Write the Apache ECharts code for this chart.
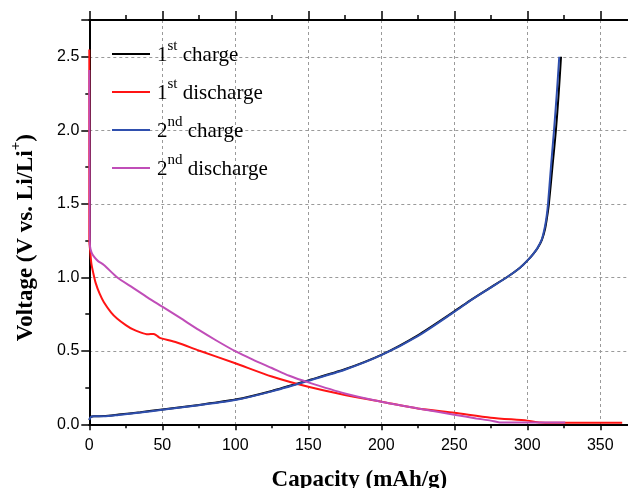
<!DOCTYPE html>
<html><head><meta charset="utf-8">
<script src="https://cdn.jsdelivr.net/npm/echarts@6/dist/echarts.min.js"></script>
<style>html,body{margin:0;padding:0;background:#fff}#c{width:628px;height:488px}</style>
</head><body><div id="c"></div>
<script>
// ---- data ----
const seriesNames = ['1st charge', '1st discharge', '2nd charge', '2nd discharge'];
const xAxisTitle = 'Capacity (mAh/g)';
const yAxisTitle = ['Voltage (V vs. Li/Li', '+', ')'];
const xMin = 0, xMax = 370, xStep = 50;
const yMin = 0, yMax = 2.75, yStep = 0.5;

const charge1 = [[0,0.03],[1,0.05],[3,0.055],[10,0.056],[20,0.066],[35,0.082],[50,0.101],[75,0.132],[100,0.168],[125,0.227],[150,0.299],[175,0.374],[200,0.472],[225,0.605],[250,0.768],[262,0.85],[275,0.932],[286,1.0],[295,1.065],[300,1.113],[304,1.158],[307,1.198],[310,1.255],[312.2,1.33],[313.7,1.42],[314.8,1.5],[317.2,1.75],[319.6,2.0],[321.5,2.25],[323.1,2.5]];
const discharge1 = [[0,2.55],[0,1.25],[0.6,1.18],[1.4,1.095],[2.7,1.03],[4.4,0.96],[7,0.89],[10,0.83],[15,0.76],[19,0.72],[25,0.675],[30,0.645],[35,0.625],[40,0.612],[44,0.615],[46,0.605],[48,0.59],[50,0.583],[60,0.556],[75,0.502],[100,0.415],[125,0.325],[150,0.255],[175,0.2],[200,0.154],[225,0.107],[250,0.078],[275,0.045],[300,0.025],[309,0.013],[330,0.011],[365,0.011]];
const charge2 = [[0,0.03],[1,0.05],[3,0.055],[10,0.055],[20,0.064],[35,0.08],[50,0.099],[75,0.13],[100,0.165],[125,0.224],[150,0.296],[175,0.371],[200,0.47],[225,0.60],[250,0.765],[262,0.848],[275,0.93],[286,1.0],[295,1.065],[300,1.113],[304,1.158],[307,1.2],[310,1.26],[312,1.34],[313.3,1.42],[314.2,1.5],[316.2,1.75],[318.3,2.0],[320.2,2.25],[321.9,2.5]];
const discharge2 = [[0,2.41],[0.2,1.73],[0.3,1.3],[0.5,1.21],[1.5,1.17],[3.2,1.14],[6,1.11],[10,1.084],[19,1.0],[30,0.928],[40,0.862],[50,0.80],[62,0.725],[75,0.642],[87,0.57],[100,0.497],[112,0.44],[125,0.383],[137,0.33],[150,0.285],[175,0.21],[200,0.154],[225,0.108],[250,0.065],[265,0.04],[275,0.025],[281,0.013],[300,0.012],[326,0.012]];
const seriesData = [charge1, discharge1, charge2, discharge2];

// ---- styling ----
const colors = ['#000000', '#ff1414', '#2f4fae', '#c04db8'];
const serif = 'Liberation Serif, Times New Roman, serif';
const sans = 'Liberation Sans, Arial, sans-serif';

const chart = echarts.init(document.getElementById('c'), null, {renderer: 'canvas'});

function legendFmt(name) {
  const m = name.match(/^(\d)(st|nd|rd|th) (.*)$/);
  return '{f|' + m[1] + '}{s|' + m[2] + '}{n| ' + m[3] + '}';
}

const axisLine = {show: true, onZero: false, lineStyle: {color: '#000', width: 2}};

const option = {
  animation: false,
  backgroundColor: '#fff',
  grid: {left: 89.3, right: -1.5, top: 20, bottom: 63.7, containLabel: false, outerBoundsMode: 'none'},
  legend: {
    orient: 'vertical', left: 107, top: 34,
    icon: 'rect', itemWidth: 38, itemHeight: 2, itemGap: 8,
    data: seriesNames,
    formatter: legendFmt,
    textStyle: {
      rich: {
        f: {fontFamily: serif, fontSize: 21, color: '#000', lineHeight: 30, verticalAlign: 'bottom', padding: [0, 0, 3, 2]},
        n: {fontFamily: serif, fontSize: 21, color: '#000', lineHeight: 30, verticalAlign: 'bottom', padding: [0, 0, 3, 0]},
        s: {fontFamily: serif, fontSize: 15, color: '#000', lineHeight: 15, verticalAlign: 'top'}
      }
    }
  },
  xAxis: [{
    type: 'value', position: 'bottom', min: xMin, max: xMax, interval: xStep,
    axisLine: axisLine,
    axisTick: {show: true, inside: false, length: 6, lineStyle: {color: '#000', width: 1.5}},
    minorTick: {show: true, splitNumber: 2, length: 4, lineStyle: {color: '#000', width: 1.5}},
    axisLabel: {show: true, margin: 13, fontFamily: sans, fontSize: 16, color: '#000', showMaxLabel: false},
    splitLine: {show: true, lineStyle: {color: '#9a9a9a', width: 1, type: [3, 3]}},
    name: xAxisTitle, nameLocation: 'middle', nameGap: 44,
    nameTextStyle: {fontFamily: serif, fontWeight: 'bold', fontSize: 23, color: '#000'}
  }, {
    type: 'value', position: 'top', min: xMin, max: xMax, interval: xStep,
    axisLine: axisLine,
    axisTick: {show: true, inside: false, length: 9, lineStyle: {color: '#000', width: 1.5}},
    minorTick: {show: true, splitNumber: 2, length: 5, lineStyle: {color: '#000', width: 1.5}},
    axisLabel: {show: false}, splitLine: {show: false}
  }],
  yAxis: [{
    type: 'value', position: 'left', min: yMin, max: yMax, interval: yStep,
    axisLine: axisLine,
    axisTick: {show: true, inside: false, length: 8, lineStyle: {color: '#000', width: 1.5}},
    minorTick: {show: true, splitNumber: 2, length: 4, lineStyle: {color: '#000', width: 1.5}},
    axisLabel: {show: true, margin: 10, fontFamily: sans, fontSize: 16, color: '#000', showMaxLabel: false,
      formatter: v => v.toFixed(1)},
    splitLine: {show: true, lineStyle: {color: '#9a9a9a', width: 1, type: [3, 3]}},
    name: '{b|' + yAxisTitle[0] + '}{sup|' + yAxisTitle[1] + '}{b|' + yAxisTitle[2] + '}',
    nameLocation: 'middle', nameGap: 52, nameRotate: 90,
    nameTextStyle: {
      padding: [0, 31, 0, 0],
      rich: {
        b: {fontFamily: serif, fontWeight: 'bold', fontSize: 23, color: '#000', lineHeight: 29, verticalAlign: 'bottom'},
        sup: {fontFamily: serif, fontWeight: 'bold', fontSize: 15, color: '#000', lineHeight: 15, verticalAlign: 'top'}
      }
    }
  }],
  series: seriesNames.map((n, i) => ({
    name: n, type: 'line', data: seriesData[i],
    xAxisIndex: 0, yAxisIndex: 0,
    showSymbol: false, symbol: 'none', smooth: 0.25, clip: false,
    lineStyle: {color: colors[i], width: 2}, itemStyle: {color: colors[i]},
    z: 3 + i
  }))
};
chart.setOption(option);
</script>
</body></html>
